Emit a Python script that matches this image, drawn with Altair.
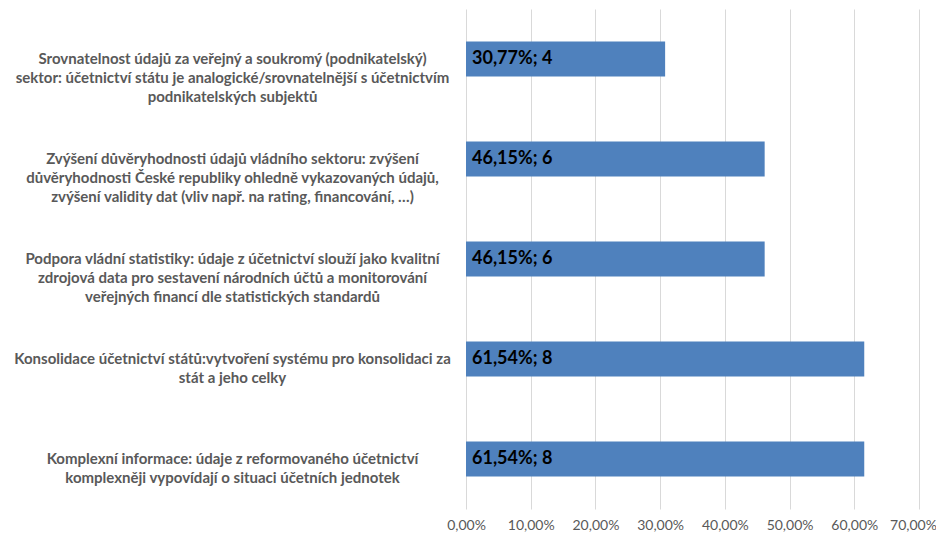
import altair as alt
import pandas as pd

categories = [
    "Srovnatelnost údajů za veřejný a soukromý (podnikatelský)|sektor: účetnictví státu je analogické/srovnatelnější s účetnictvím|podnikatelských subjektů",
    "Zvýšení důvěryhodnosti údajů vládního sektoru: zvýšení|důvěryhodnosti České republiky ohledně vykazovaných údajů,|zvýšení validity dat (vliv např. na rating, financování, …)",
    "Podpora vládní statistiky: údaje z účetnictví slouží jako kvalitní|zdrojová data pro sestavení národních účtů a monitorování|veřejných financí dle statistických standardů",
    "Konsolidace účetnictví států:vytvoření systému pro konsolidaci za|stát a jeho celky",
    "Komplexní informace: údaje z reformovaného účetnictví|komplexněji vypovídají o situaci účetních jednotek",
]
shares = [0.3077, 0.4615, 0.4615, 0.6154, 0.6154]
counts = [4, 6, 6, 8, 8]
x_ticks = [0, 0.1, 0.2, 0.3, 0.4, 0.5, 0.6, 0.7]

df = pd.DataFrame({"category": categories, "share": shares, "count": counts})

base = alt.Chart(df).transform_calculate(
    zero="0",
    lbl="replace(format(datum.share, '.2%'), '.', ',') + '; ' + datum.count",
)

y_enc = alt.Y(
    "category:N",
    sort=categories,
    scale=alt.Scale(paddingInner=0.65, paddingOuter=0.325),
    axis=alt.Axis(
        title=None,
        labelExpr="split(datum.label, '|')",
        labelAlign="center",
        labelBaseline="middle",
        labelPadding=234,
        labelFont="Lato",
        labelFontWeight="bold",
        labelFontSize=15,
        labelColor="#595959",
        labelLineHeight=19,
        labelLimit=1000,
        ticks=False,
        domain=False,
    ),
)

bars = base.mark_bar(color="#4F81BD").encode(
    y=y_enc,
    x=alt.X(
        "share:Q",
        scale=alt.Scale(domain=[0, 0.7], nice=False),
        axis=alt.Axis(
            title=None,
            values=x_ticks,
            labelExpr="replace(format(datum.value, '.2%'), '.', ',')",
            grid=True,
            gridColor="#d9d9d9",
            ticks=False,
            domain=False,
            labelPadding=9,
            labelOverlap=False,
            labelFlush=False,
            labelOffset={"expr": "datum.value > 0.69 ? -6 : 0"},
            labelFont="Lato",
            labelFontSize=14,
            labelColor="#595959",
        ),
    ),
)

texts = base.mark_text(
    align="left", baseline="middle", dx=6, font="Lato", fontWeight="bold",
    fontSize=18, color="#000000",
).encode(
    y=alt.Y("category:N", sort=categories),
    x=alt.X("zero:Q"),
    text="lbl:N",
)

chart = alt.layer(bars, texts).properties(
    width=453,
    height=500,
    autosize=alt.AutoSizeParams(type="none"),
    padding={"left": 458, "top": 1, "right": 17, "bottom": 27},
    background="white",
).configure_view(stroke=None)

chart.save("out.html", embed_options={"renderer": "svg", "actions": False})
